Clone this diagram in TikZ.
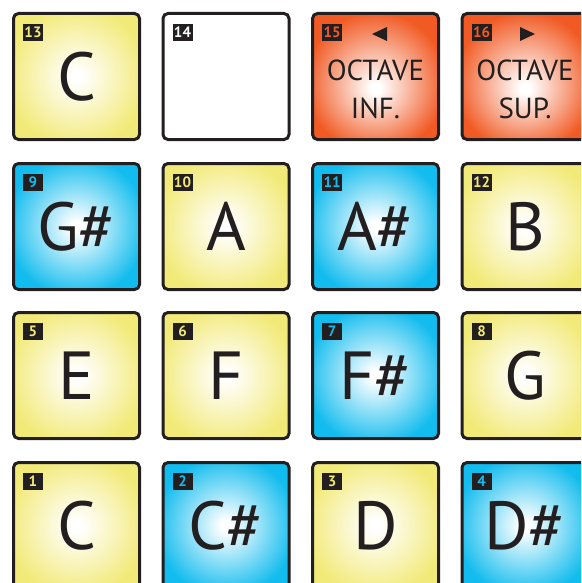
\documentclass[tikz,border=0pt]{standalone}
\usepackage{fontspec}
\setmainfont{PT Sans}
\definecolor{ink}{HTML}{231F20}
\definecolor{padY}{HTML}{F2EA78}
\definecolor{padB}{HTML}{12BCEE}
\definecolor{padO}{HTML}{F15A24}
\pgfdeclareradialshading{shY}{\pgfpoint{0bp}{0bp}}{color(0bp)=(white); color(2bp)=(white); color(28bp)=(padY); color(50bp)=(padY)}
\pgfdeclareradialshading{shB}{\pgfpoint{0bp}{0bp}}{color(0bp)=(white); color(2bp)=(white); color(28bp)=(padB); color(50bp)=(padB)}
\pgfdeclareradialshading{shO}{\pgfpoint{0bp}{-5bp}}{color(0bp)=(white); color(2bp)=(white); color(28bp)=(padO); color(50bp)=(padO)}
\tikzset{
  pad/.style={draw=ink, line width=3pt, rounded corners=5pt, minimum size=126pt, inner sep=0pt},
  padY/.style={pad, preaction={fill=padY}, shading=shY},
  padB/.style={pad, preaction={fill=padB}, shading=shB},
  padO/.style={pad, preaction={fill=padO}, shading=shO},
  padW/.style={pad, fill=white},
  badge/.style={fill=ink, minimum width=20pt, minimum height=17pt, inner sep=0pt,
    font=\bfseries\fontsize{15}{15}\selectfont},
  note/.style={text=ink, inner sep=0pt, anchor=base, font=\fontsize{68}{68}\selectfont},
  octave/.style={text=ink, inner sep=0pt, anchor=base, font=\fontsize{29}{29}\selectfont},
  arrowmark/.style={fill=ink},
}
% #1 index, #2 x, #3 y, #4 pad style, #5 number colour, #6 label
\newcommand\padcell[6]{%
  \node[#4] (p#1) at (#2,#3) {};
  \node[badge, text=#5] (b#1) at ([shift={(-43.5,-44)}]p#1.center) {#1};
  \node[note] (t#1) at ([shift={(0,24)}]p#1.center) {#6};
}
\begin{document}
\begin{tikzpicture}[x=1pt,y=-1pt]
\useasboundingbox (0,0) rectangle (581,583);
\clip (0,0) rectangle (581,583);
% row 1
\padcell{13}{76.5}{76.5}{padY}{padY}{C}
\padcell{14}{226}{76.5}{padW}{white}{}
\padcell{15}{375.5}{76.5}{padO}{padO}{}
\padcell{16}{525}{76.5}{padO}{padO}{}
\node[octave] (t15a) at ([shift={(0,4.5)}]p15.center) {OCTAVE};
\node[octave] (t15b) at ([shift={(0,41.5)}]p15.center) {INF.};
\node[octave] (t16a) at ([shift={(0,4.5)}]p16.center) {OCTAVE};
\node[octave] (t16b) at ([shift={(0,41.5)}]p16.center) {SUP.};
\fill[arrowmark] ([shift={(-3.5,-42.5)}]p15.center) -- ([shift={(11.5,-49.5)}]p15.center) -- ([shift={(11.5,-35.5)}]p15.center) -- cycle;
\fill[arrowmark] ([shift={(10,-42.5)}]p16.center) -- ([shift={(-5,-49.5)}]p16.center) -- ([shift={(-5,-35.5)}]p16.center) -- cycle;
% row 2
\padcell{9}{76.5}{226.5}{padB}{padB}{G\#}
\padcell{10}{226}{226.5}{padY}{padY}{A}
\padcell{11}{375.5}{226.5}{padB}{padB}{A\#}
\padcell{12}{525}{226.5}{padY}{padY}{B}
% row 3
\padcell{5}{76.5}{375.5}{padY}{padY}{E}
\padcell{6}{226}{375.5}{padY}{padY}{F}
\padcell{7}{375.5}{375.5}{padB}{padB}{F\#}
\padcell{8}{525}{375.5}{padY}{padY}{G}
% row 4
\padcell{1}{76.5}{525.5}{padY}{padY}{C}
\padcell{2}{226}{525.5}{padB}{padB}{C\#}
\padcell{3}{375.5}{525.5}{padY}{padY}{D}
\padcell{4}{525}{525.5}{padB}{padB}{D\#}
\end{tikzpicture}
\end{document}
